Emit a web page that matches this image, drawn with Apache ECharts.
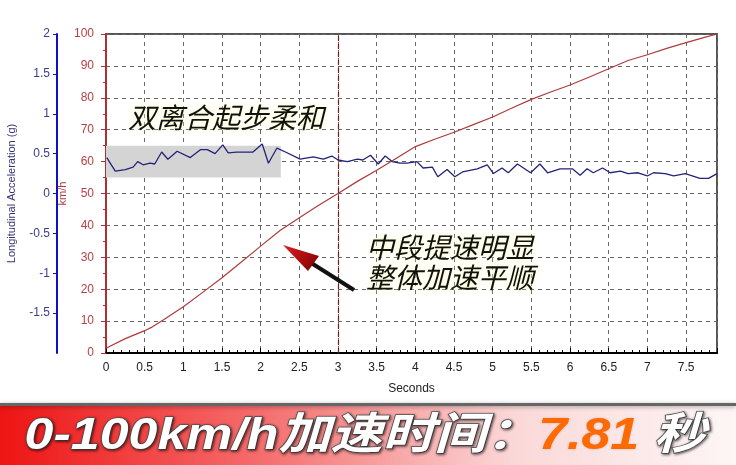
<!DOCTYPE html>
<html><head><meta charset="utf-8">
<script src="https://cdn.jsdelivr.net/npm/echarts@6/dist/echarts.min.js"></script>
<style>html,body{margin:0;padding:0;background:#fff}#c{width:736px;height:465px}</style>
</head><body><div id="c"></div>
<script>
// ---- data ----
const xTicks = [0,0.5,1,1.5,2,2.5,3,3.5,4,4.5,5,5.5,6,6.5,7,7.5];
const speedTime = [0,0.25,0.5,0.6,0.75,1,1.25,1.5,1.75,2,2.25,2.5,2.75,3,3.25,3.5,3.75,4,4.25,4.5,4.75,5,5.25,5.5,5.75,6,6.25,6.5,6.75,7,7.25,7.5,7.75,7.9];
const speedKmh  = [1.5,4.5,7,8.2,10.5,14.5,19,23.6,28.5,33.5,38.4,42.4,46.3,50,53.8,57.3,61,64.7,67,69.2,71.6,74,76.8,79.5,81.8,84,86.5,89.1,91.7,93.5,95.5,97.3,99,100];
const accelTime = [0.01,0.12,0.25,0.35,0.41,0.48,0.57,0.63,0.72,0.8,0.92,1.09,1.22,1.31,1.41,1.51,1.58,1.69,1.9,2.02,2.1,2.21,2.32,2.51,2.68,2.81,2.92,3,3.12,3.25,3.32,3.42,3.52,3.61,3.7,3.8,3.89,4.02,4.1,4.22,4.29,4.41,4.51,4.61,4.8,4.93,5.01,5.12,5.2,5.32,5.49,5.61,5.71,5.87,6.03,6.13,6.22,6.3,6.42,6.52,6.65,6.75,6.88,7,7.08,7.23,7.34,7.49,7.55,7.68,7.79,7.9];
const accelG    = [0.45,0.28,0.30,0.33,0.40,0.36,0.38,0.37,0.52,0.43,0.53,0.45,0.55,0.55,0.50,0.61,0.51,0.52,0.52,0.62,0.38,0.57,0.52,0.43,0.46,0.43,0.47,0.42,0.40,0.43,0.42,0.48,0.37,0.47,0.40,0.38,0.38,0.40,0.32,0.33,0.21,0.30,0.21,0.27,0.31,0.36,0.25,0.32,0.26,0.37,0.26,0.37,0.26,0.31,0.31,0.23,0.31,0.26,0.32,0.26,0.28,0.25,0.26,0.22,0.26,0.25,0.22,0.25,0.23,0.19,0.19,0.25];
const xMax = 7.9;
const markTime = 3;
const shadeRange = [[0, 0.6], [2.26, 0.2]];
const bannerMain = '0-100km/h加速时间：';
const bannerValue = '7.81';
const bannerUnit = ' 秒';
const note1 = '双离合起步柔和';
const note2 = ['中段提速明显', '整体加速平顺'];

const speedData = speedTime.map((t, i) => [t, speedKmh[i]]);
const accelData = accelTime.map((t, i) => [t, accelG[i]]);

const chart = echarts.init(document.getElementById('c'), null, {renderer: 'canvas'});
const dash = [4, 4];
chart.setOption({
  backgroundColor: '#fff',
  animation: false,
  grid: {left: 106, right: 19, top: 34, bottom: 112, show: true, borderColor: '#555', borderWidth: 2,
    backgroundColor: 'transparent', containLabel: false, outerBoundsMode: 'none'},
  xAxis: {
    type: 'value', min: 0, max: xMax, interval: 0.5,
    name: 'Seconds', nameLocation: 'middle', nameGap: 30,
    nameTextStyle: {color: '#222', fontSize: 12, fontFamily: 'Liberation Sans'},
    axisLine: {lineStyle: {color: '#000', width: 2}},
    axisTick: {inside: true, length: 5, lineStyle: {color: '#000'}},
    minorTick: {show: true, splitNumber: 5, length: 3, lineStyle: {color: '#000'}},
    axisLabel: {color: '#222', fontSize: 12, margin: 9, fontFamily: 'Liberation Sans', showMaxLabel: false,
      formatter: v => xTicks.indexOf(v) >= 0 ? String(v) : ''},
    splitLine: {show: true, lineStyle: {color: '#666', type: dash, width: 1}}
  },
  yAxis: [{
    type: 'value', min: 0, max: 100, interval: 10, position: 'left',
    name: 'km/h', nameLocation: 'middle', nameGap: 38, nameRotate: 90, nameMoveOverlap: false,
    nameTextStyle: {color: '#b03a3a', fontSize: 11, fontFamily: 'Liberation Sans'},
    axisLine: {show: true, lineStyle: {color: '#b03030', width: 2}},
    axisTick: {show: true, length: 5, lineStyle: {color: '#b03030'}},
    minorTick: {show: true, splitNumber: 2, length: 3, lineStyle: {color: '#b03030'}},
    axisLabel: {color: '#b84040', fontSize: 12, margin: 12, fontFamily: 'Liberation Sans'},
    splitLine: {show: true, lineStyle: {color: '#666', type: dash, width: 1}}
  }, {
    type: 'value', min: -2, max: 2, interval: 0.5, position: 'left', offset: 49,
    name: 'Longitudinal Acceleration (g)', nameLocation: 'middle', nameGap: 40, nameRotate: 90, nameMoveOverlap: false,
    nameTextStyle: {color: '#33337a', fontSize: 11, fontFamily: 'Liberation Sans'},
    axisLine: {show: true, lineStyle: {color: '#1010c0', width: 2}},
    axisTick: {show: true, length: 4, lineStyle: {color: '#1010c0'}},
    axisLabel: {color: '#3c3c8c', fontSize: 12, margin: 7, fontFamily: 'Liberation Sans', showMinLabel: false},
    splitLine: {show: false}
  }],
  series: [{
    type: 'line', yAxisIndex: 0, data: speedData, symbol: 'none',
    lineStyle: {color: '#b03a3a', width: 1.2}, z: 3,
    markLine: {silent: true, symbol: 'none', label: {show: false},
      lineStyle: {color: '#7a1a1a', type: [5, 3], width: 1.2},
      data: [{xAxis: markTime}]}
  }, {
    type: 'line', yAxisIndex: 1, data: accelData, symbol: 'none',
    lineStyle: {color: '#23237a', width: 1.3}, z: 4,
    markArea: {silent: true, itemStyle: {color: '#d4d4d4'},
      data: [[{coord: shadeRange[0]}, {coord: shadeRange[1]}]]}
  }],
  graphic: [
    {type: 'text', z: 100, x: 128, y: 117, style: {text: note1, fill: '#111',
      font: 'italic 28px "Noto Sans CJK SC"', textVerticalAlign: 'middle',
      textShadowColor: 'rgba(255,255,190,1)', textShadowBlur: 6}},
    {type: 'text', z: 100, x: 366, y: 247, style: {text: note2[0], fill: '#111',
      font: 'italic 28px "Noto Sans CJK SC"', textVerticalAlign: 'middle',
      textShadowColor: 'rgba(255,255,190,1)', textShadowBlur: 6}},
    {type: 'text', z: 100, x: 366, y: 277, style: {text: note2[1], fill: '#111',
      font: 'italic 28px "Noto Sans CJK SC"', textVerticalAlign: 'middle',
      textShadowColor: 'rgba(255,255,190,1)', textShadowBlur: 6}},
    {type: 'line', z: 100, shape: {x1: 354, y1: 290, x2: 305, y2: 259}, style: {stroke: '#111', lineWidth: 4}},
    {type: 'polygon', z: 101, shape: {points: [[283, 245], [319, 256], [308, 271]]},
      style: {fill: new echarts.graphic.LinearGradient(0, 0, 1, 1, [{offset: 0, color: '#e02020'}, {offset: 1, color: '#7a0000'}])}},
    {type: 'rect', z: 50, shape: {x: 0, y: 406, width: 736, height: 59},
      style: {fill: new echarts.graphic.LinearGradient(0, 0, 1, 0, [
        {offset: 0, color: '#ee1414'}, {offset: 0.35, color: '#f56c6c'}, {offset: 0.7, color: '#fbd8d8'}, {offset: 1, color: '#fdf6f6'}])}},
    {type: 'rect', z: 51, shape: {x: 0, y: 403, width: 736, height: 3},
      style: {fill: '#666', shadowColor: 'rgba(0,0,0,0.35)', shadowBlur: 4, shadowOffsetY: 1}},
    {type: 'text', z: 60, x: 30, y: 437, scaleX: 1.18, originX: 30, originY: 437,
      style: {text: '{a|' + bannerMain + '}{b|' + bannerValue + '}{a|' + bannerUnit + '}', textVerticalAlign: 'middle',
        rich: {
          a: {fill: '#fff', font: 'italic bold 44px "Liberation Sans", "Noto Sans CJK SC"', stroke: '#555', lineWidth: 1.5,
              textShadowColor: 'rgba(0,0,0,0.6)', textShadowBlur: 3, textShadowOffsetX: 1, textShadowOffsetY: 1},
          b: {fill: '#ff6a00', font: 'italic bold 44px "Liberation Sans", "Noto Sans CJK SC"',
              textShadowColor: 'rgba(0,0,0,0.25)', textShadowBlur: 2}
        }}}
  ]
});
</script></body></html>
